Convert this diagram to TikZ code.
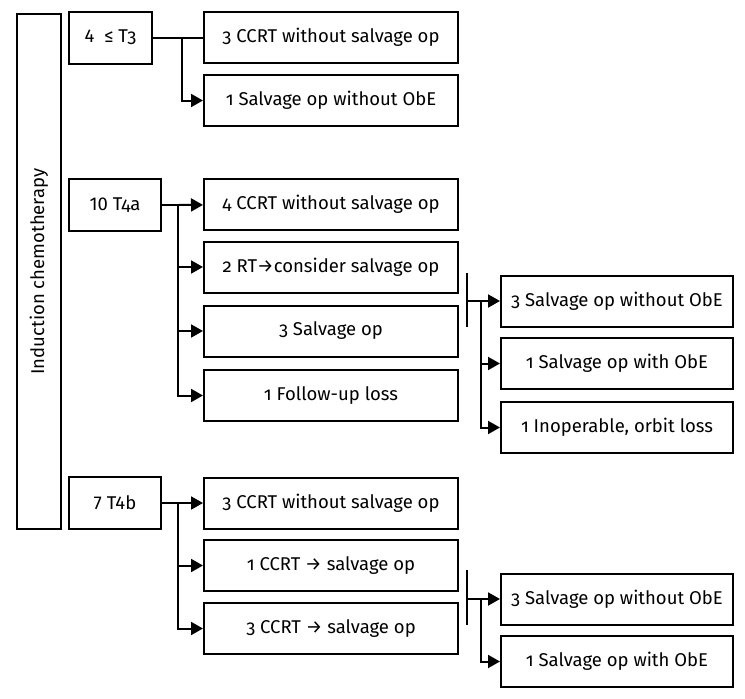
\documentclass[tikz,border=0pt]{standalone}
\usepackage{fontspec}
\setmainfont[Numbers=OldStyle]{Fira Sans}
\newfontfamily\lnum[Numbers=Lining]{Fira Sans}
\usetikzlibrary{arrows.meta}
\usetikzlibrary{positioning}

\begin{document}
\begin{tikzpicture}[x=1pt,y=-1pt,line width=2pt,
  every node/.style={draw,solid,color=black,inner sep=0pt,font=\fontsize{18.5}{20}\selectfont},
  midbox/.style={minimum width=254pt,minimum height=51pt},
  rightbox/.style={minimum width=232pt,minimum height=51pt},
  stagebox/.style={minimum width=92pt,minimum height=52pt},
  >={Triangle[length=12pt,width=13pt]}]
\useasboundingbox (0,0) rectangle (745,699);

\node[minimum width=44pt,minimum height=515pt](ind) at (39, 271.5) {};
\node[draw=none,rotate=90] at (ind.center) {Induction chemotherapy};

% T3
\node[stagebox,minimum width=83pt](t3) at (110.5, 37.5) {{\lnum 4}\ \ ≤ T3};
\node[midbox](t3a) at (331, 37.5) {3 CCRT without salvage op};
\node[midbox](t3b) at (331, 100.5) {1 Salvage op without ObE};

% T4a
\node[stagebox](t4a) at (115, 205) {{\lnum 10}\ T4a};
\node[midbox](t4aa) at (331, 204.5) {4 CCRT without salvage op};
\node[midbox](t4ab) at (331, 267) {2 RT→consider salvage op};
\node[midbox](t4ac) at (331, 331) {3 Salvage op};
\node[midbox](t4ad) at (331, 395.5) {1 Follow-up loss};

\node[rightbox](t4ae) at (617, 301) {3 Salvage op without ObE};
\node[rightbox](t4af) at (617, 363.5) {1 Salvage op with ObE};
\node[rightbox](t4ag) at (617, 427.5) {1 Inoperable, orbit loss};

% T4b
\node[stagebox](t4b) at (115, 503) {{\lnum 7 T4b}};
\node[midbox](t4ba) at (331, 503) {3 CCRT without salvage op};
\node[midbox](t4bb) at (331, 565.5) {1 CCRT → salvage op};
\node[midbox](t4bc) at (331, 628.5) {3 CCRT → salvage op};

\node[rightbox](t4bd) at (617, 599) {3 Salvage op without ObE};
\node[rightbox](t4be) at (617, 661.5) {1 Salvage op with ObE};

\coordinate(j3) at (182, 37.5);
\coordinate(j4a) at (178, 205);
\coordinate(j4b) at (178, 503);
\coordinate(k4aTop) at (467, 273); \coordinate(k4aBot) at (467, 327); \coordinate(k4a) at (467, 301);
\coordinate(k4bTop) at (467, 570); \coordinate(k4bBot) at (467, 625); \coordinate(k4b) at (467, 599);
\coordinate(m4a) at (481, 301);
\coordinate(m4b) at (481, 599);

\draw (t3)--(t3a); \draw[->] (j3) |- (t3b);
\draw (t4a)--(j4a); \draw[->] (j4a)--(t4aa);
\draw[->] (j4a) |- (t4ab); \draw[->] (j4a) |- (t4ac); \draw[->] (j4a) |- (t4ad);
\draw (t4b)--(j4b); \draw[->] (j4b)--(t4ba);
\draw[->] (j4b) |- (t4bb); \draw[->] (j4b) |- (t4bc);

\draw (k4aTop)--(k4aBot); \draw[->] (k4a)--(t4ae);
\draw[->] (m4a) |- (t4af); \draw[->] (m4a) |- (t4ag);
\draw (k4bTop)--(k4bBot); \draw[->] (k4b)--(t4bd);
\draw[->] (m4b) |- (t4be);
\end{tikzpicture}
\end{document}
